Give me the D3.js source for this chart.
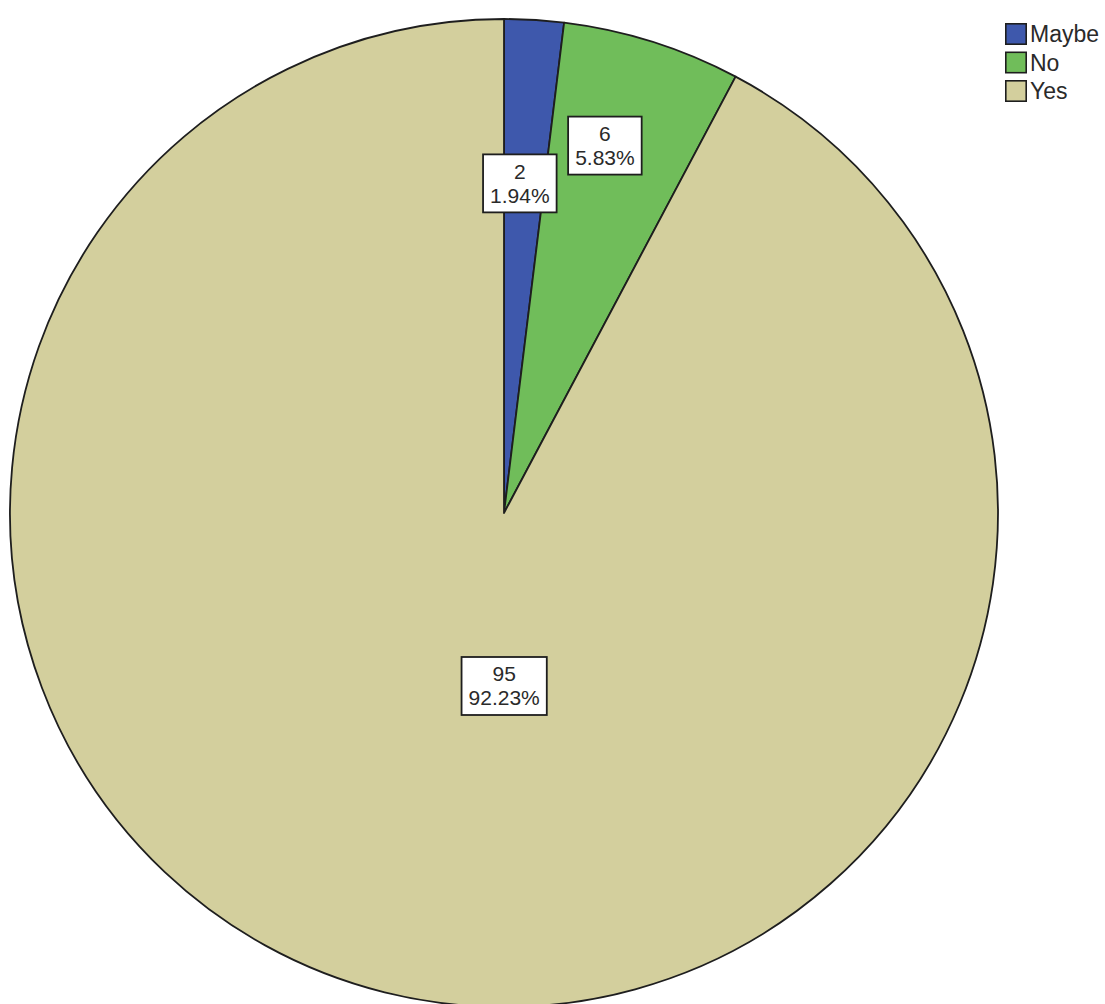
<!DOCTYPE html>
<html>
<head>
<meta charset="utf-8">
<script src="https://cdn.jsdelivr.net/npm/d3@7"></script>
<style>
  html, body { margin: 0; padding: 0; background: #fff; }
  svg { display: block; }
</style>
</head>
<body>
<svg id="chart" width="1105" height="1004"></svg>
<script>
// Survey responses
const categories = ["Maybe", "No", "Yes"];
const counts = [2, 6, 95];
const percentLabels = ["1.94%", "5.83%", "92.23%"];
const sliceColors = ["#3e58ac", "#70bd5a", "#d3cf9d"];

const svg = d3.select("#chart");
const cx = 504, cy = 513, radius = 494;

const pie = d3.pie().sort(null).value(d => d.count).startAngle(0).endAngle(2 * Math.PI);
const data = categories.map((c, i) => ({ cat: c, count: counts[i], pct: percentLabels[i], color: sliceColors[i] }));
const arcs = pie(data);
const arc = d3.arc().innerRadius(0).outerRadius(radius);

const g = svg.append("g").attr("transform", `translate(${cx},${cy})`);

g.selectAll("path.slice")
  .data(arcs)
  .join("path")
  .attr("class", "slice")
  .attr("d", arc)
  .attr("fill", d => d.data.color)
  .attr("stroke", "#1e1e1e")
  .attr("stroke-width", 1.8)
  .attr("stroke-linejoin", "round");

// Label placement: angle offset from the slice bisector and distance from centre
const labelPlace = {
  "Maybe": { dAngle: -0.013, r: 330 },
  "No":    { dAngle: -0.037, r: 381 },
  "Yes":   { dAngle: -0.245, r: 173 }
};

const fontSize = 21, lineH = 24, padX = 7, padY = 6;

const labels = g.selectAll("g.lbl")
  .data(arcs)
  .join("g")
  .attr("class", "lbl")
  .attr("transform", d => {
    const p = labelPlace[d.data.cat];
    const a = (d.startAngle + d.endAngle) / 2 + p.dAngle;
    return `translate(${p.r * Math.sin(a)},${-p.r * Math.cos(a)})`;
  });

labels.each(function(d) {
  const sel = d3.select(this);
  const rect = sel.append("rect");
  const txt = sel.append("text")
    .attr("text-anchor", "middle")
    .attr("font-family", "Liberation Sans, Arial, sans-serif")
    .attr("font-size", fontSize)
    .attr("fill", "#2a2a2a");
  txt.append("tspan").attr("x", 0).attr("y", -lineH / 2).attr("dy", "0.35em").text(d.data.count);
  txt.append("tspan").attr("x", 0).attr("y", lineH / 2).attr("dy", "0.35em").text(d.data.pct);
  const bb = txt.node().getBBox();
  rect.attr("x", bb.x - padX)
    .attr("y", -lineH - padY + 1)
    .attr("width", bb.width + 2 * padX)
    .attr("height", 2 * lineH + 2 * padY - 2)
    .attr("fill", "#fff")
    .attr("stroke", "#1e1e1e")
    .attr("stroke-width", 1.8);
});

// Legend
const legend = svg.append("g").attr("transform", "translate(1005,23)");
const rowH = 28.5, sw = 22;
const items = legend.selectAll("g.item")
  .data(data)
  .join("g")
  .attr("class", "item")
  .attr("transform", (d, i) => `translate(0,${i * rowH})`);
items.append("rect")
  .attr("x", 0.8).attr("y", 0.8)
  .attr("width", sw - 1.6).attr("height", sw - 1.6)
  .attr("fill", d => d.color)
  .attr("stroke", "#1e1e1e")
  .attr("stroke-width", 1.6);
items.append("text")
  .attr("x", sw + 3)
  .attr("y", sw / 2)
  .attr("dy", "0.36em")
  .attr("font-family", "Liberation Sans, Arial, sans-serif")
  .attr("font-size", 23)
  .attr("fill", "#2a2a2a")
  .text(d => d.cat);
</script>
</body>
</html>
